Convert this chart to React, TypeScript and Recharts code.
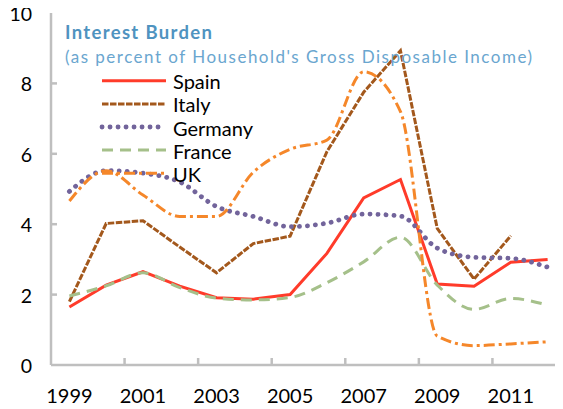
import { Line, LineChart, XAxis, YAxis } from 'recharts'

const years = ['1999', '2000', '2001', '2002', '2003', '2004', '2005', '2006', '2007', '2008', '2009', '2010', '2011', '2012']
const spain = [1.65, 2.27, 2.65, 2.24, 1.91, 1.87, 2.0, 3.17, 4.75, 5.27, 2.3, 2.24, 2.92, 3.0]
const italy = [1.8, 4.02, 4.1, 3.35, 2.62, 3.45, 3.66, 6.06, 7.75, 8.93, 3.88, 2.44, 3.67, null]
const germany = [4.93, 5.52, 5.45, 5.2, 4.5, 4.22, 3.93, 4.03, 4.29, 4.23, 3.32, 3.06, 3.03, 2.78]
const france = [1.96, 2.25, 2.62, 2.2, 1.9, 1.85, 1.92, 2.34, 2.93, 3.63, 2.27, 1.58, 1.89, 1.7]
const uk = [4.66, 5.52, 4.83, 4.22, 4.22, 5.48, 6.13, 6.39, 8.33, 7.2, 0.82, 0.55, 0.6, 0.66]
const yTicks = [0, 2, 4, 6, 8, 10]

const data = years.map((year, i) => ({
  year,
  spain: spain[i],
  italy: italy[i],
  germany: germany[i],
  france: france[i],
  uk: uk[i],
}))

const series = [
  { key: 'spain', name: 'Spain', color: '#ff3b2a', width: 3, dash: undefined, type: 'linear', cap: 'butt' },
  { key: 'italy', name: 'Italy', color: '#a3581c', width: 3, dash: '6.5 1.5', type: 'linear', cap: 'butt' },
  { key: 'germany', name: 'Germany', color: '#72649b', width: 4.8, dash: '0.1 7.9', type: 'monotone', cap: 'round' },
  { key: 'france', name: 'France', color: '#a5c08a', width: 3, dash: '11 7', type: 'monotone', cap: 'butt' },
  { key: 'uk', name: 'UK', color: '#f5872a', width: 3, dash: '11 4 3 4', type: 'monotone', cap: 'butt' },
] as const

const AXIS = '#bfbfbf'
const FONT = 'Lato, "Open Sans", sans-serif'
const BAND = 515 / 14

const XTick = ({ x, y, payload }: any) => (
  <g>
    <text x={x} y={y + 38} textAnchor="middle" fontSize={20} fill="#000" fontFamily={FONT}>
      {payload.value}
    </text>
    <line x1={x + 1.5 * BAND} x2={x + 1.5 * BAND} y1={y} y2={y - 7} stroke={AXIS} strokeWidth={2.5} />
  </g>
)

const YTick = ({ x, y, payload }: any) => (
  <g>
    <text x={x - 19} y={y + 8} textAnchor="end" fontSize={19.5} fill="#000" fontFamily={FONT}>
      {payload.value}
    </text>
    {payload.value > 0 && payload.value < 10 && (
      <line x1={x} x2={x + 6} y1={y} y2={y} stroke={AXIS} strokeWidth={2.5} />
    )}
  </g>
)

export default function App() {
  return (
    <div style={{ position: 'relative', width: 563, height: 409, margin: '-8px 0 0 -8px', overflow: 'hidden' }}>
      <LineChart width={566} height={409} data={data} margin={{ top: 13, right: 0, bottom: 0, left: 0 }}>
        <XAxis
          dataKey="year"
          interval={1}
          padding={{ left: BAND / 2, right: BAND / 2 }}
          height={44}
          tickSize={0}
          tickMargin={0}
          tickLine={false}
          axisLine={{ stroke: AXIS, strokeWidth: 2.5 }}
          tick={<XTick />}
        />
        <XAxis
          xAxisId="top"
          dataKey="year"
          orientation="top"
          height={0}
          tick={false}
          tickLine={false}
          axisLine={{ stroke: AXIS, strokeWidth: 2.5 }}
        />
        <YAxis
          width={51}
          domain={[0, 10]}
          ticks={yTicks}
          tickSize={0}
          tickMargin={0}
          tickLine={false}
          axisLine={{ stroke: AXIS, strokeWidth: 2.5 }}
          tick={<YTick />}
        />
        {series.map((s) => (
          <Line
            key={s.key}
            dataKey={s.key}
            name={s.name}
            type={s.type}
            stroke={s.color}
            strokeWidth={s.width}
            strokeDasharray={s.dash}
            strokeLinecap={s.cap}
            dot={false}
            activeDot={false}
            isAnimationActive={false}
          />
        ))}
      </LineChart>
      <svg width={563} height={200} style={{ position: 'absolute', left: 0, top: 0, pointerEvents: 'none' }}>
        <text x={65} y={39} fontSize={18.5} fontWeight={700} fill="#4f93c0" fontFamily={FONT} textLength={147} lengthAdjust="spacing">
          Interest Burden
        </text>
        <text x={65} y={63} fontSize={17} fill="#6aa6cf" fontFamily={FONT} textLength={467} lengthAdjust="spacing">
          (as percent of Household's Gross Disposable Income)
        </text>
        {series.map((s, i) => {
          const y = 80.8 + i * 23.1
          return (
            <g key={s.key}>
              <line
                x1={102}
                x2={166}
                y1={y}
                y2={y}
                stroke={s.color}
                strokeWidth={s.width}
                strokeDasharray={s.dash}
                strokeLinecap={s.cap}
              />
              <text x={173} y={y + 8.5} fontSize={20} fill="#000" fontFamily={FONT}>
                {s.name}
              </text>
            </g>
          )
        })}
      </svg>
    </div>
  )
}
